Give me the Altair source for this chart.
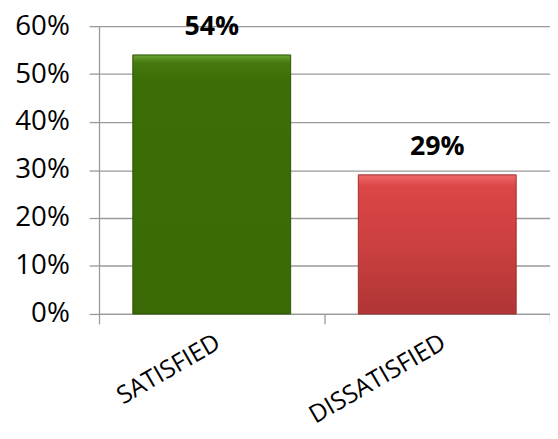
import altair as alt
import pandas as pd

categories = ["SATISFIED", "DISSATISFIED"]
values = [0.54, 0.29]
y_ticks = [0, 0.1, 0.2, 0.3, 0.4, 0.5, 0.6]

df = pd.DataFrame({"cat": categories, "val": values})

FONT = "Open Sans"

green_grad = alt.LinearGradient(
    gradient="linear", x1=0, y1=0, x2=0, y2=1,
    stops=[alt.GradientStop(color="#6aa532", offset=0),
           alt.GradientStop(color="#46790f", offset=0.03),
           alt.GradientStop(color="#3c6e07", offset=0.1),
           alt.GradientStop(color="#396a05", offset=1)])
red_grad = alt.LinearGradient(
    gradient="linear", x1=0, y1=0, x2=0, y2=1,
    stops=[alt.GradientStop(color="#f06a6a", offset=0),
           alt.GradientStop(color="#dc4646", offset=0.08),
           alt.GradientStop(color="#cc4040", offset=0.5),
           alt.GradientStop(color="#b03535", offset=1)])

x_enc = alt.X("cat:N", sort=categories, title=None,
              scale=alt.Scale(paddingInner=0, paddingOuter=0),
              axis=alt.Axis(labelAngle=-30, labelAlign="right", labelBaseline="top",
                            labelFont=FONT, labelFontSize=25, labelColor="#000000",
                            labelPadding=6, tickBand="extent", tickSize=10,
                            tickColor="#999999", domainColor="#999999",
                            domainWidth=1.3, tickWidth=1.3, grid=False))
y_enc = alt.Y("val:Q", title=None,
              scale=alt.Scale(domain=[0, 0.6], nice=False),
              axis=alt.Axis(values=y_ticks, format=".0%", labelFont=FONT,
                            labelFontSize=28, labelColor="#000000", labelPadding=20,
                            tickSize=10, tickColor="#999999", domainColor="#999999",
                            domainWidth=1.3, tickWidth=1.3,
                            grid=True, gridColor="#9a9a9a", gridWidth=1.3))

base = alt.Chart(df)

bar_w = alt.RelativeBandSize(0.7)
bar_g = base.mark_bar(color=green_grad, stroke="#2e5504", strokeWidth=1, width=bar_w).encode(
    x=x_enc, y=y_enc).transform_filter(alt.datum.cat == categories[0])
bar_r = base.mark_bar(color=red_grad, stroke="#9c2f2f", strokeWidth=1, width=bar_w).encode(
    x=x_enc, y=y_enc).transform_filter(alt.datum.cat == categories[1])

labels = base.mark_text(font=FONT, fontSize=27, fontWeight="bold", color="#000000",
                        baseline="alphabetic", dy=-20).encode(
    x=alt.X("cat:N", sort=categories),
    y=alt.Y("val:Q"),
    text=alt.Text("val:Q", format=".0%"))

chart = alt.layer(bar_g, bar_r, labels).properties(
    width=456, height=291,
    autosize=alt.AutoSizeParams(type="none"),
    padding={"left": 92, "top": 16, "right": 0, "bottom": 116},
).configure_view(stroke=None).configure_axis(labelOverlap=False)

chart.save("out.html", embed_options={"renderer": "svg", "actions": False})
